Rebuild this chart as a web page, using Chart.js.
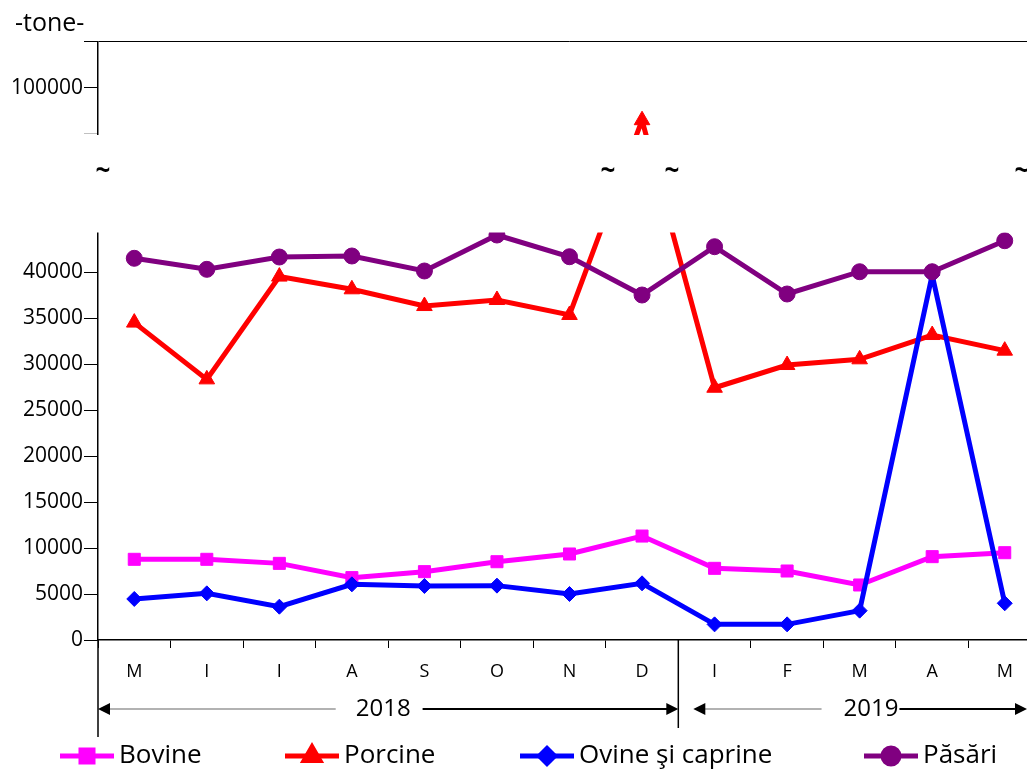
<!DOCTYPE html>
<html>
<head>
<meta charset="utf-8">
<script src="https://cdn.jsdelivr.net/npm/chart.js@4.4.1/dist/chart.umd.min.js"></script>
<style>
  html, body { margin: 0; padding: 0; background: #fff; overflow: hidden; }
  #wrap { position: relative; width: 1027px; height: 773px; overflow: hidden; }
  canvas { position: absolute; left: 0; top: 0; }
</style>
</head>
<body>
<div id="wrap">
  <canvas id="grafic" width="1051" height="773"></canvas>
</div>
<script>
const luni = ["M", "I", "I", "A", "S", "O", "N", "D", "I", "F", "M", "A", "M"];
const ani = ["2018", "2019"];
const unitate = "-tone-";

const bovine = [8770, 8770, 8330, 6780, 7430, 8510, 9350, 11300, 7790, 7500, 5980, 9060, 9490];
const porcine = [34500, 28330, 39500, 38120, 36300, 36960, 35330, 96500, 27420, 29890, 30510, 33150, 31450];
const ovine = [4460, 5070, 3620, 6050, 5870, 5910, 5000, 6160, 1700, 1700, 3190, 39670, 3990];
const pasari = [41490, 40290, 41630, 41740, 40110, 44020, 41660, 37500, 42750, 37610, 40030, 40030, 43400];

const tickuri = [0, 5000, 10000, 15000, 20000, 25000, 30000, 35000, 40000, 95000, 100000, 105000];
const etichete = [0, 5000, 10000, 15000, 20000, 25000, 30000, 35000, 40000, 100000];

Chart.defaults.font.family = "'Open Sans', sans-serif";
Chart.defaults.color = "#000";

// axa y cu intrerupere: jos 0..de, sus la..max, pauza de px pixeli intre ele
class ScaraRupta extends Chart.LinearScale {
  getPixelForValue(v) {
    if (v === null || v === undefined || isNaN(v)) return NaN;
    const { de, la, px } = this.options.pauza;
    const k = (this.height - px) / ((de - this.min) + (this.max - la));
    if (v <= de) return this.bottom - (v - this.min) * k;
    const jos = this.bottom - (de - this.min) * k;
    if (v < la) return jos - (v - de) / (la - de) * px;
    return jos - px - (v - la) * k;
  }
  getValueForPixel(p) {
    const { de, la, px } = this.options.pauza;
    const k = (this.height - px) / ((de - this.min) + (this.max - la));
    const jos = this.bottom - (de - this.min) * k;
    if (p >= jos) return this.min + (this.bottom - p) / k;
    if (p > jos - px) return de + (jos - p) / px * (la - de);
    return la + (jos - px - p) / k;
  }
}
ScaraRupta.id = "rupta";
Chart.register(ScaraRupta);

function linie(ctx, x1, y1, x2, y2) {
  ctx.beginPath();
  ctx.moveTo(x1, y1);
  ctx.lineTo(x2, y2);
  ctx.stroke();
}

function varf(ctx, x, y, dir) {
  ctx.beginPath();
  ctx.moveTo(x, y);
  ctx.lineTo(x - dir * 12, y - 6);
  ctx.lineTo(x - dir * 12, y + 6);
  ctx.closePath();
  ctx.fill();
}

const decor = {
  id: "decor",
  afterDraw(chart) {
    const { ctx, chartArea, scales: { x, y } } = chart;
    const pas = x.getPixelForValue(1) - x.getPixelForValue(0);
    const stg = chartArea.left;
    const sep = x.getPixelForValue(7) + pas / 2;
    const jos = chartArea.bottom;
    ctx.save();

    // ascunde pauza dintre cele doua parti ale axei
    const sus = y.getPixelForValue(95000);
    const mij = y.getPixelForValue(44240);
    ctx.fillStyle = "#fff";
    ctx.fillRect(0, sus + 1, chart.width, mij - sus - 1.5);

    ctx.fillStyle = "#000";
    ctx.font = "bold 26px 'Open Sans'";
    ctx.textAlign = "center";
    ctx.textBaseline = "middle";
    [stg + 5, x.getPixelForValue(7) - 34, x.getPixelForValue(7) + 30, 1022].forEach((tx) => {
      ctx.fillText("~", tx, 172);
    });

    ctx.font = "25px 'Open Sans'";
    ctx.textAlign = "left";
    ctx.fillText(unitate, 15, 24);

    // linii lungi sub axa
    ctx.strokeStyle = "#000";
    ctx.lineWidth = 1.5;
    linie(ctx, stg, jos, stg, 737);
    linie(ctx, sep, jos, sep, 728);

    // anii cu sageti
    const ya = 709;
    ctx.font = "24px 'Open Sans'";
    ctx.textAlign = "center";
    const c1 = (stg + sep) / 2 - 5;
    const c2 = 871;
    ctx.fillText(ani[0], c1, ya);
    ctx.fillText(ani[1], c2, ya);
    const w1 = ctx.measureText(ani[0]).width;
    const w2 = ctx.measureText(ani[1]).width;

    ctx.strokeStyle = "#999";
    ctx.lineWidth = 1.5;
    linie(ctx, stg + 10, ya, c1 - w1 / 2 - 20, ya);
    linie(ctx, sep + 25, ya, c2 - w2 / 2 - 22, ya);
    ctx.strokeStyle = "#000";
    ctx.lineWidth = 2;
    linie(ctx, c1 + w1 / 2 + 12, ya, sep - 10, ya);
    linie(ctx, c2 + w2 / 2 + 1, ya, 1017, ya);
    varf(ctx, stg, ya, -1);
    varf(ctx, sep, ya, 1);
    varf(ctx, sep + 15, ya, -1);
    varf(ctx, 1027, ya, 1);

    // legenda
    const legX = [60, 285, 520, 864];
    const ly = 756;
    ctx.font = "26px 'Open Sans'";
    ctx.textAlign = "left";
    chart.data.datasets.forEach((ds, i) => {
      const lx = legX[i];
      ctx.strokeStyle = ds.borderColor;
      ctx.fillStyle = ds.borderColor;
      ctx.lineWidth = 5;
      linie(ctx, lx, ly, lx + 54, ly);
      Chart.helpers.drawPoint(ctx, { pointStyle: ds.pointStyle, radius: ds.pointRadius, rotation: 0, borderWidth: 1 }, lx + 27, ly);
      ctx.fillStyle = "#000";
      ctx.fillText(ds.label, lx + 59, ly);
    });
    ctx.restore();
  }
};

function serie(label, data, culoare, stil, raza, ordine) {
  return {
    label,
    data,
    borderColor: culoare,
    backgroundColor: culoare,
    borderWidth: 5,
    pointStyle: stil,
    pointRadius: raza,
    pointBorderWidth: 1,
    tension: 0,
    clip: 0,
    order: ordine
  };
}

new Chart(document.getElementById("grafic"), {
  type: "line",
  data: {
    labels: luni,
    datasets: [
      serie("Bovine", bovine, "#ff00ff", "rect", 8.5, 4),
      serie("Porcine", porcine, "#ff0000", "triangle", 9, 3),
      serie("Ovine şi caprine", ovine, "#0000ff", "rectRot", 7.5, 2),
      serie("Păsări", pasari, "#800080", "circle", 8, 1)
    ]
  },
  options: {
    responsive: false,
    animation: false,
    layout: { padding: { top: 42, right: 5, bottom: 0, left: 0 } },
    plugins: { legend: { display: false }, tooltip: { enabled: false } },
    scales: {
      x: {
        offset: true,
        afterFit(s) { s.height = 133; },
        grid: { offset: true, drawOnChartArea: false, tickLength: 8, color: "#000" },
        border: { color: "#000", width: 1.5 },
        ticks: { padding: 13, font: { size: 18 }, maxRotation: 0, autoSkip: false }
      },
      y: {
        type: "rupta",
        min: 0,
        max: 105000,
        pauza: { de: 44240, la: 95000, px: 99 },
        afterFit(s) { s.width = 98; },
        afterBuildTicks(s) { s.ticks = tickuri.map((v) => ({ value: v })); },
        ticks: {
          padding: 1,
          font: { size: 21 },
          callback: (v) => (etichete.includes(v) ? String(v) : "")
        },
        grid: {
          drawOnChartArea: true,
          tickLength: 14,
          color: (c) => (c.tick && c.tick.value === 105000 ? "#000" : "rgba(0,0,0,0)"),
          tickColor: (c) => (c.tick && c.tick.value === 95000 ? "#c0c0c0" : "#000")
        },
        border: { color: "#000", width: 1.5 }
      }
    }
  },
  plugins: [decor]
});
</script>
</body>
</html>
